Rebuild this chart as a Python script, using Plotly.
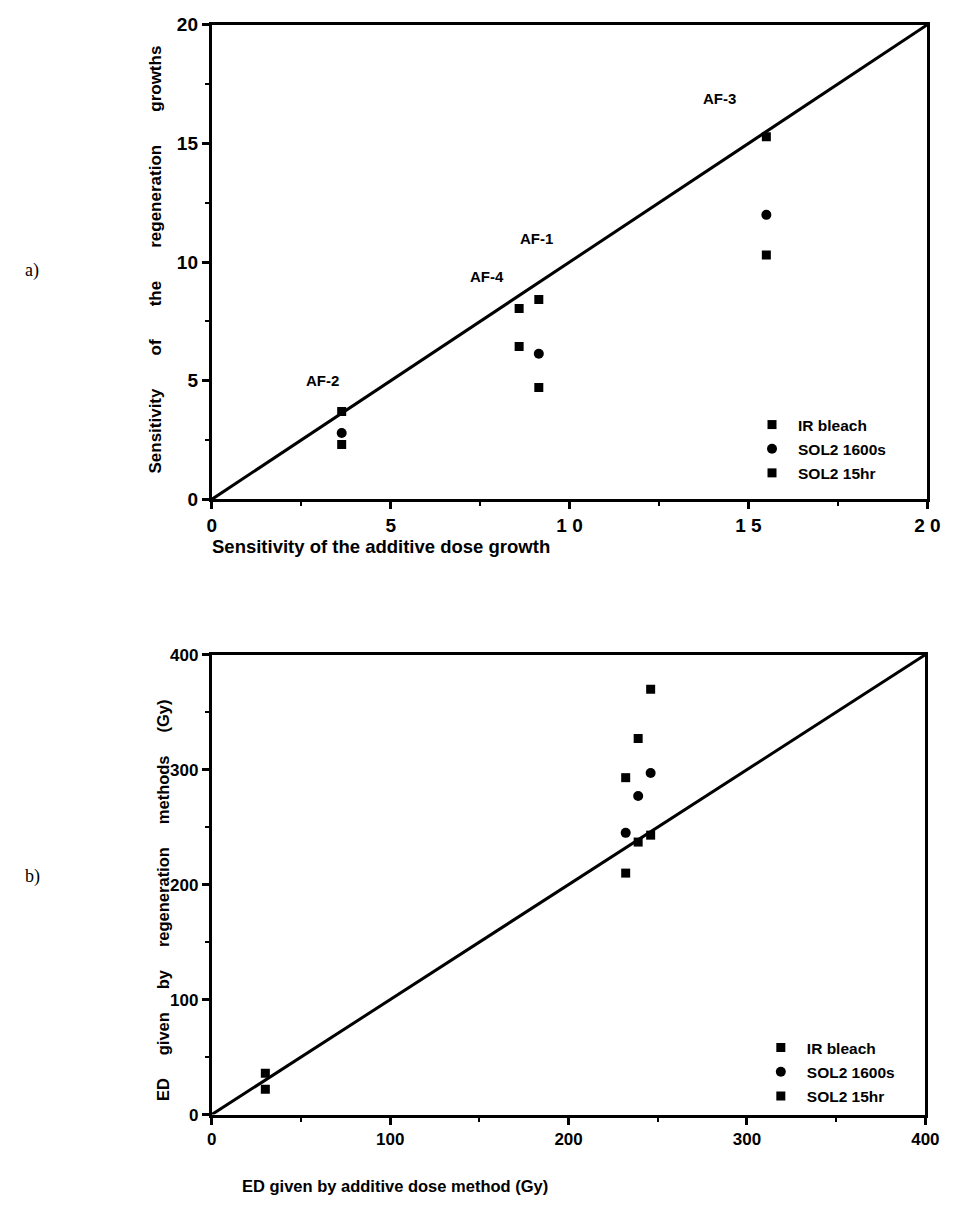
import plotly.graph_objects as go

W, H = 958, 1214

# ---------------- data: panel a (sensitivities) ----------------
a_samples = ["AF-2", "AF-4", "AF-1", "AF-3"]
a_additive = [3.63, 8.59, 9.14, 15.5]
a_ir_bleach = [3.70, 8.04, 8.42, 15.28]
a_sol2_1600s = [2.80, None, 6.14, 11.99]
a_sol2_15hr = [2.31, 6.44, 4.71, 10.30]
a_label_x = [3.1, 7.7, 9.07, 14.2]
a_label_y = [5.0, 9.4, 10.98, 16.9]
a_ticks = [0, 5, 10, 15, 20]
a_xticktext = ["0", "5", "1 0", "1 5", "2 0"]
a_yticktext = ["0", "5", "10", "15", "20"]
a_line = [0, 20]

# ---------------- data: panel b (equivalent doses) ----------------
b_additive = [30, 232, 239, 246]
b_ir_bleach = [36, 293, 327, 370]
b_sol2_1600s = [None, 245, 277, 297]
b_sol2_15hr = [22, 210, 237, 243]
b_ticks = [0, 100, 200, 300, 400]
b_line = [0, 400]

FONT = "Liberation Sans, Arial, Helvetica, sans-serif"


def px(x):
    return x / W


def py(y):
    return 1 - y / H


fig = go.Figure()

mk = dict(color="black", size=9, line=dict(width=0))

# panel a
fig.add_trace(go.Scatter(x=a_line, y=a_line, mode="lines", line=dict(color="black", width=3),
                         showlegend=False, xaxis="x", yaxis="y", hoverinfo="skip"))
fig.add_trace(go.Scatter(x=a_additive, y=a_ir_bleach, mode="markers", name="IR bleach",
                         marker=dict(symbol="square", **mk), xaxis="x", yaxis="y",
                         legend="legend", legendgroup="a1"))
fig.add_trace(go.Scatter(x=a_additive, y=a_sol2_1600s, mode="markers", name="SOL2 1600s",
                         marker=dict(symbol="circle", **{**mk, "size": 10}), xaxis="x", yaxis="y",
                         legend="legend", legendgroup="a2"))
fig.add_trace(go.Scatter(x=a_additive, y=a_sol2_15hr, mode="markers", name="SOL2 15hr",
                         marker=dict(symbol="square", **mk), xaxis="x", yaxis="y",
                         legend="legend", legendgroup="a3"))

# panel b
fig.add_trace(go.Scatter(x=b_line, y=b_line, mode="lines", line=dict(color="black", width=3),
                         showlegend=False, xaxis="x2", yaxis="y2", hoverinfo="skip"))
fig.add_trace(go.Scatter(x=b_additive, y=b_ir_bleach, mode="markers", name="IR bleach",
                         marker=dict(symbol="square", **mk), xaxis="x2", yaxis="y2",
                         legend="legend2", legendgroup="b1"))
fig.add_trace(go.Scatter(x=b_additive, y=b_sol2_1600s, mode="markers", name="SOL2 1600s",
                         marker=dict(symbol="circle", **{**mk, "size": 10}), xaxis="x2", yaxis="y2",
                         legend="legend2", legendgroup="b2"))
fig.add_trace(go.Scatter(x=b_additive, y=b_sol2_15hr, mode="markers", name="SOL2 15hr",
                         marker=dict(symbol="square", **mk), xaxis="x2", yaxis="y2",
                         legend="legend2", legendgroup="b3"))

axis_common = dict(showline=True, linecolor="black", linewidth=3, mirror=True,
                   ticks="outside", ticklen=7, tickwidth=2.5, tickcolor="black",
                   showgrid=False, zeroline=False, fixedrange=True,
                   ticklabeloverflow="allow")

fig.update_layout(
    width=W, height=H,
    margin=dict(l=0, r=0, t=0, b=0),
    paper_bgcolor="white", plot_bgcolor="white",
    font=dict(family=FONT, color="black"),
    xaxis=dict(domain=[px(211), px(941)], range=[0, 20], anchor="y",
               tickvals=a_ticks, ticktext=a_xticktext,
               tickfont=dict(size=19, weight="bold", family=FONT),
               minor=dict(ticks="outside", dtick=2.5, ticklen=4, tickwidth=2, tickcolor="black"),
               **axis_common),
    yaxis=dict(domain=[py(498), py(15)], range=[0, 20], anchor="x",
               tickvals=a_ticks, ticktext=a_yticktext,
               tickfont=dict(size=19, weight="bold", family=FONT),
               minor=dict(ticks="outside", dtick=2.5, ticklen=4, tickwidth=2, tickcolor="black"),
               **axis_common),
    xaxis2=dict(domain=[px(211), px(939)], range=[0, 400], anchor="y2",
                tickvals=b_ticks,
                tickfont=dict(size=17, weight="bold", family=FONT),
                minor=dict(ticks="outside", dtick=50, ticklen=4, tickwidth=2, tickcolor="black"),
                **axis_common),
    yaxis2=dict(domain=[py(1124), py(656)], range=[0, 400], anchor="x2",
                tickvals=b_ticks,
                tickfont=dict(size=17, weight="bold", family=FONT),
                minor=dict(ticks="outside", dtick=50, ticklen=4, tickwidth=2, tickcolor="black"),
                **axis_common),
    legend=dict(x=px(756), y=py(405), xanchor="left", yanchor="top",
                bgcolor="rgba(0,0,0,0)", tracegroupgap=1, itemwidth=42,
                font=dict(size=15.5, family=FONT, weight="bold")),
    legend2=dict(x=px(765), y=py(1039), xanchor="left", yanchor="top",
                 bgcolor="rgba(0,0,0,0)", tracegroupgap=1, itemwidth=42,
                 font=dict(size=15.5, family=FONT, weight="bold")),
    showlegend=True,
)

annotations = []
for name, lx, ly in zip(a_samples, a_label_x, a_label_y):
    annotations.append(dict(x=lx, y=ly, xref="x", yref="y", text=name, showarrow=False,
                            font=dict(size=15, family=FONT, weight="bold")))

sp_a = "\u00a0" * 7
sp_b = "\u00a0" * 5
annotations += [
    dict(x=px(209), y=py(546), xref="paper", yref="paper", xanchor="left", yanchor="middle",
         text="Sensitivity of the additive dose growth", showarrow=False,
         font=dict(size=18.5, family=FONT, weight="bold")),
    dict(x=px(154), y=py(254), xref="paper", yref="paper", xanchor="center", yanchor="middle",
         text=sp_a.join(["Sensitivity", "of", "the", "regeneration", "growths"]), textangle=-90,
         showarrow=False, font=dict(size=17, family=FONT, weight="bold")),
    dict(x=px(398), y=py(1197), xref="paper", yref="paper", xanchor="center", yanchor="middle",
         text="ED given by additive dose method (Gy)", showarrow=False,
         font=dict(size=16.5, family=FONT, weight="bold")),
    dict(x=px(162), y=py(906), xref="paper", yref="paper", xanchor="center", yanchor="middle",
         text=sp_b.join(["ED", "given", "by", "regeneration", "methods", "(Gy)"]), textangle=-90,
         showarrow=False, font=dict(size=16.5, family=FONT, weight="bold")),
    dict(x=px(28), y=py(265), xref="paper", yref="paper", xanchor="center", yanchor="middle",
         text="a)", showarrow=False, font=dict(size=18, family="Liberation Serif, Times New Roman, serif")),
    dict(x=px(28), y=py(882), xref="paper", yref="paper", xanchor="center", yanchor="middle",
         text="b)", showarrow=False, font=dict(size=18, family="Liberation Serif, Times New Roman, serif")),
]
fig.update_layout(annotations=annotations)

fig.write_html(
    "out.html",
    config={"displayModeBar": False},
    post_script="document.body.style.margin='0px';document.body.style.overflow='hidden';",
)
